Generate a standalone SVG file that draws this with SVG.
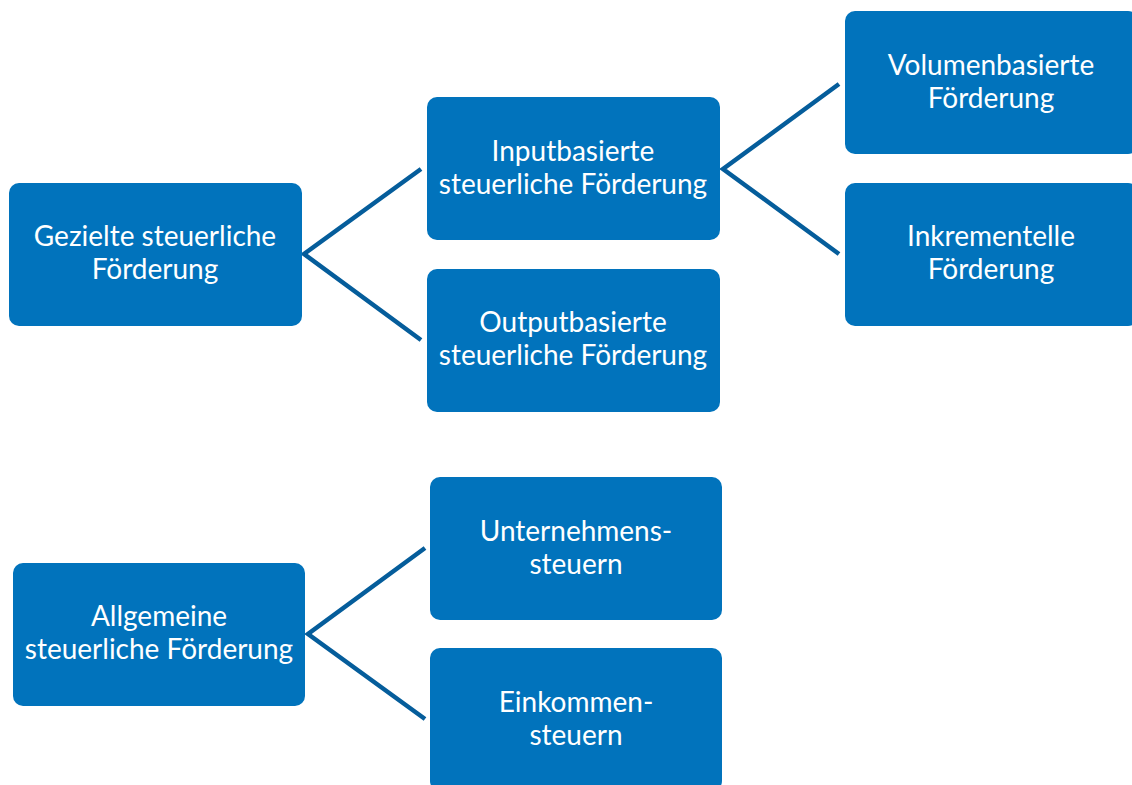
<svg xmlns="http://www.w3.org/2000/svg" width="1132" height="785" viewBox="0 0 1132 785">
<style>
.box{fill:#0173bc;}
.lbl{font-family:Lato,"Open Sans",sans-serif;font-size:28px;fill:#ffffff;text-anchor:middle;}
.conn{fill:none;stroke:#055d9b;stroke-width:4.5;}
</style>
<rect width="1132" height="785" fill="#ffffff"/>
<g id="connectors">
<polyline class="conn" points="421,169 304,254 421,340"/>
<polyline class="conn" points="839,84 723,169 839,254"/>
<polyline class="conn" points="425,548 308,634 425,719"/>
</g>
<g id="n-gezielte">
<rect class="box" x="9" y="183" width="293" height="143" rx="10"/>
<text class="lbl" x="155" y="246">Gezielte steuerliche</text>
<text class="lbl" x="155" y="279">Förderung</text>
</g>
<g id="n-input">
<rect class="box" x="427" y="97" width="293" height="143" rx="10"/>
<text class="lbl" x="573" y="161">Inputbasierte</text>
<text class="lbl" x="573" y="194">steuerliche Förderung</text>
</g>
<g id="n-output">
<rect class="box" x="427" y="269" width="293" height="143" rx="10"/>
<text class="lbl" x="573" y="332">Outputbasierte</text>
<text class="lbl" x="573" y="365">steuerliche Förderung</text>
</g>
<g id="n-volumen">
<rect class="box" x="845" y="11" width="293" height="143" rx="10"/>
<text class="lbl" x="991" y="75">Volumenbasierte</text>
<text class="lbl" x="991" y="108">Förderung</text>
</g>
<g id="n-inkrementell">
<rect class="box" x="845" y="183" width="293" height="143" rx="10"/>
<text class="lbl" x="991" y="246">Inkrementelle</text>
<text class="lbl" x="991" y="279">Förderung</text>
</g>
<g id="n-allgemeine">
<rect class="box" x="13" y="563" width="292" height="143" rx="10"/>
<text class="lbl" x="159" y="626">Allgemeine</text>
<text class="lbl" x="159" y="659">steuerliche Förderung</text>
</g>
<g id="n-unternehmen">
<rect class="box" x="430" y="477" width="292" height="143" rx="10"/>
<text class="lbl" x="576" y="541">Unternehmens-</text>
<text class="lbl" x="576" y="574">steuern</text>
</g>
<g id="n-einkommen">
<rect class="box" x="430" y="648" width="292" height="143" rx="10"/>
<text class="lbl" x="576" y="712">Einkommen-</text>
<text class="lbl" x="576" y="745">steuern</text>
</g>
</svg>
